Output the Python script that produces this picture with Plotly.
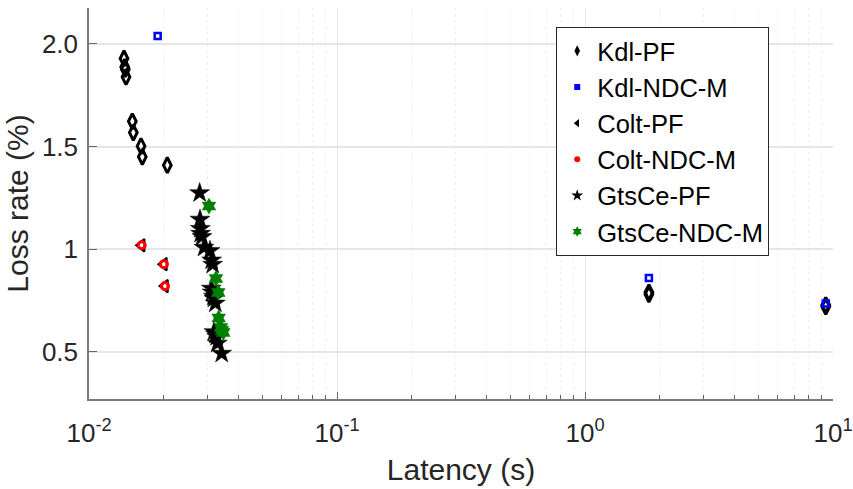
import numpy as np
import plotly.graph_objects as go

# ---- data ----
kdl_pf_x = [0.01384, 0.01393, 0.01401, 0.01410, 0.01495, 0.01509, 0.01621, 0.01640, 0.02069, 1.81, 1.81, 9.35, 9.35]
kdl_pf_y = [1.929, 1.888, 1.877, 1.839, 1.623, 1.568, 1.502, 1.450, 1.409, 0.790, 0.780, 0.720, 0.728]

kdl_ndc_x = [0.01892, 1.81, 9.35]
kdl_ndc_y = [2.039, 0.860, 0.735]

colt_pf_x = [0.01631, 0.02005, 0.02025]
colt_pf_y = [1.019, 0.927, 0.820]

colt_ndc_x = [0.01631, 0.02005, 0.02025]
colt_ndc_y = [1.019, 0.927, 0.820]

gts_pf_x = [0.02794, 0.02803, 0.02812, 0.02820, 0.02855, 0.02909, 0.03075, 0.03123, 0.03152,
            0.03113, 0.03140, 0.03175, 0.03190, 0.03231, 0.03190, 0.03240, 0.03271, 0.03292, 0.03428]
gts_pf_y = [1.274, 1.145, 1.100, 1.076, 1.060, 1.008, 0.992, 0.946, 0.925,
            0.809, 0.790, 0.770, 0.760, 0.736, 0.597, 0.585, 0.573, 0.541, 0.492]

gts_ndc_x = [0.03047, 0.03251, 0.03322, 0.03333, 0.03406, 0.03481, 0.03440]
gts_ndc_y = [1.210, 0.857, 0.789, 0.665, 0.619, 0.594, 0.605]

names = ["Kdl-PF", "Kdl-NDC-M", "Colt-PF", "Colt-NDC-M", "GtsCe-PF", "GtsCe-NDC-M"]

x_tickvals = [0.01, 0.1, 1, 10]
x_ticktext = ["10<sup>-2</sup>", "10<sup>-1</sup>", "10<sup>0</sup>", "10<sup>1</sup>"]
y_tickvals = [0.5, 1, 1.5, 2.0]
y_ticktext = ["0.5", "1", "1.5", "2.0"]

FONT = "Liberation Sans, Arial, sans-serif"
TXT = "#262626"

fig = go.Figure()

# data traces
fig.add_trace(go.Scatter(x=kdl_pf_x, y=kdl_pf_y, mode="markers", showlegend=False,
                         marker=dict(symbol="diamond-tall-open", size=11, color="black", line=dict(width=3, color="black"))))
fig.add_trace(go.Scatter(x=kdl_ndc_x, y=kdl_ndc_y, mode="markers", showlegend=False,
                         marker=dict(symbol="square-open", size=6, color="blue", line=dict(width=2.5, color="blue"))))
fig.add_trace(go.Scatter(x=colt_pf_x, y=colt_pf_y, mode="markers", showlegend=False,
                         marker=dict(symbol="triangle-left-open", size=11, color="black", line=dict(width=2, color="black"))))
fig.add_trace(go.Scatter(x=colt_ndc_x, y=colt_ndc_y, mode="markers", showlegend=False,
                         marker=dict(symbol="circle-open", size=7, color="red", line=dict(width=3, color="red"))))
fig.add_trace(go.Scatter(x=gts_pf_x, y=gts_pf_y, mode="markers", showlegend=False,
                         marker=dict(symbol="star", size=15, color="black", line=dict(width=0.5, color="black"))))
fig.add_trace(go.Scatter(x=gts_ndc_x, y=gts_ndc_y, mode="markers", showlegend=False,
                         marker=dict(symbol="hexagram", size=12, color="#008000", line=dict(width=0.5, color="#008000"))))

# legend entries (small markers, as in the reference legend)
leg_syms = ["diamond-tall", "square", "triangle-left", "circle", "star", "hexagram"]
leg_cols = ["black", "blue", "black", "red", "black", "#008000"]
leg_sizes = [8, 6, 7, 6, 9, 8]
for n, s, c, sz in zip(names, leg_syms, leg_cols, leg_sizes):
    fig.add_trace(go.Scatter(x=[None], y=[None], mode="markers", name=n,
                             marker=dict(symbol=s, size=sz, color=c)))

minor_vals = [m * 10.0 ** e for e in range(-2, 1) for m in range(2, 10)]

fig.update_layout(
    width=853, height=489,
    margin=dict(l=89, r=20, t=8, b=90),
    paper_bgcolor="white", plot_bgcolor="white",
    font=dict(family=FONT, color=TXT, size=26),
    legend=dict(x=0.628, y=0.952, xanchor="left", yanchor="top",
                bgcolor="white", bordercolor="#262626", borderwidth=1,
                font=dict(size=25.5, color="black", family=FONT),
                tracegroupgap=0, itemwidth=30),
    xaxis=dict(type="log", range=[-2, 1], tickvals=x_tickvals, ticktext=x_ticktext,
               automargin=False,
               ticks="inside", ticklen=7, tickcolor="#666", tickwidth=1,
               showline=True, linecolor="#7a7a7a", linewidth=1.5, mirror=False,
               showgrid=True, gridcolor="#e6e6e6", gridwidth=1,
               zeroline=False, tickfont=dict(size=26, color=TXT), ticklabelstandoff=10,
               title=dict(text="Latency (s)", font=dict(size=30, color=TXT), standoff=12),
               minor=dict(tickvals=minor_vals, ticks="inside", ticklen=4, tickcolor="#666",
                          showgrid=True, gridcolor="#efefef", griddash="dot", gridwidth=1)),
    yaxis=dict(range=[0.27, 2.175], tickvals=y_tickvals, ticktext=y_ticktext,
               automargin=False,
               ticks="inside", ticklen=8, tickcolor="#666", tickwidth=1,
               showline=True, linecolor="#7a7a7a", linewidth=1.5, mirror=False,
               showgrid=True, gridcolor="#e6e6e6", gridwidth=1.5,
               zeroline=False, tickfont=dict(size=26, color=TXT), ticklabelstandoff=4,
               title=dict(text="Loss rate (%)", font=dict(size=30, color=TXT), standoff=4)),
)

fig.write_html("out.html", config={"displayModeBar": False},
               post_script="document.body.style.margin='0px';")
